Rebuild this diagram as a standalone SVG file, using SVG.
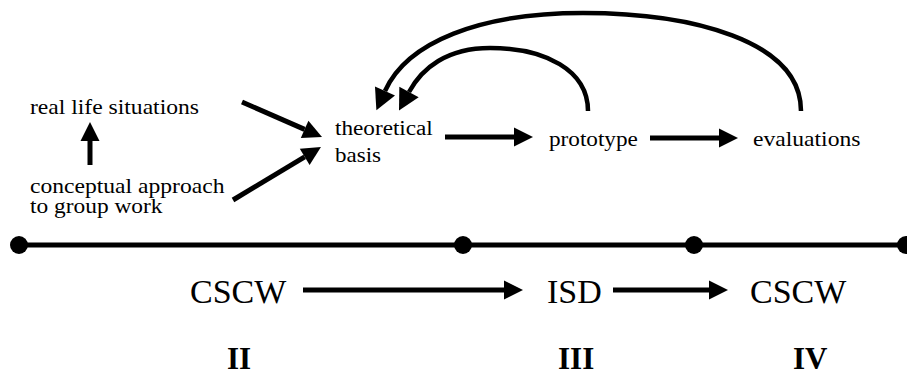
<svg xmlns="http://www.w3.org/2000/svg" width="907" height="376" viewBox="0 0 907 376">
  <style>
    text { font-family: "Liberation Serif", "Times New Roman", "DejaVu Serif", serif; fill: #000; }
    .lbl { font-size: 20px; }
    .big { font-size: 34px; }
    .num { font-size: 31px; font-weight: bold; }
    .edge { fill: none; stroke: #000; stroke-width: 5; }
    .curve { fill: none; stroke: #000; stroke-width: 4.5; }
  </style>
  <defs>
    <marker id="head" markerUnits="userSpaceOnUse" markerWidth="22" markerHeight="22" refX="0" refY="11" orient="auto" overflow="visible">
      <path d="M0,1.5 L19,11 L0,20.5 z" fill="#000"/>
    </marker>
    <marker id="headBig" markerUnits="userSpaceOnUse" markerWidth="24" markerHeight="24" refX="0" refY="12" orient="auto" overflow="visible">
      <path d="M0,1 L21,12 L0,23 z" fill="#000"/>
    </marker>
  </defs>

  <!-- timeline -->
  <g id="timeline">
    <line x1="19" y1="245" x2="907" y2="245" stroke="#000" stroke-width="5"/>
    <circle cx="19" cy="245" r="9"/>
    <circle cx="463" cy="245" r="9"/>
    <circle cx="694" cy="245" r="9"/>
    <circle cx="906" cy="245" r="9"/>
  </g>

  <!-- concept nodes (labels are set slightly wide) -->
  <g id="real-life">
    <text class="lbl" transform="translate(30 114) scale(1.18 1)">real life situations</text>
  </g>
  <g id="conceptual">
    <text class="lbl" transform="translate(30 193) scale(1.18 1)">conceptual approach</text>
    <text class="lbl" transform="translate(30 213) scale(1.17 1)">to group work</text>
  </g>
  <g id="theoretical">
    <text class="lbl" transform="translate(335 135) scale(1.16 1)">theoretical</text>
    <text class="lbl" transform="translate(335 162) scale(1.15 1)">basis</text>
  </g>
  <g id="prototype">
    <text class="lbl" transform="translate(549 146) scale(1.16 1)">prototype</text>
  </g>
  <g id="evaluations">
    <text class="lbl" transform="translate(753 146) scale(1.18 1)">evaluations</text>
  </g>

  <!-- discipline nodes -->
  <g id="cscw-1">
    <text class="big" x="190" y="303">CSCW</text>
  </g>
  <g id="isd">
    <text class="big" x="547" y="303">ISD</text>
  </g>
  <g id="cscw-2">
    <text class="big" x="750" y="303">CSCW</text>
  </g>

  <!-- phase numbers -->
  <g id="phase-2"><text class="num" x="227" y="369">II</text></g>
  <g id="phase-3"><text class="num" x="558" y="369">III</text></g>
  <g id="phase-4"><text class="num" x="793" y="369">IV</text></g>

  <!-- connectors -->
  <g id="connectors">
    <line class="edge" x1="90" y1="165" x2="90" y2="141" marker-end="url(#head)"/>
    <line class="edge" x1="242" y1="102" x2="304.6" y2="129.4" marker-end="url(#head)"/>
    <line class="edge" x1="233" y1="200" x2="304.7" y2="156.8" marker-end="url(#head)"/>
    <line class="edge" x1="445" y1="137" x2="514" y2="137" marker-end="url(#head)"/>
    <line class="edge" x1="650" y1="138" x2="719" y2="138" marker-end="url(#head)"/>
    <line class="edge" x1="303" y1="290" x2="504" y2="290" marker-end="url(#head)"/>
    <line class="edge" x1="613" y1="290" x2="709" y2="290" marker-end="url(#head)"/>
    <path class="curve" d="M588,111 C588,70 545,48 490,48 C447,48 422,68 409,92" marker-end="url(#headBig)"/>
    <path class="curve" d="M801,111 C801,40 690,13 583,13 C480,13 407,42 385,91" marker-end="url(#headBig)"/>
  </g>
</svg>
